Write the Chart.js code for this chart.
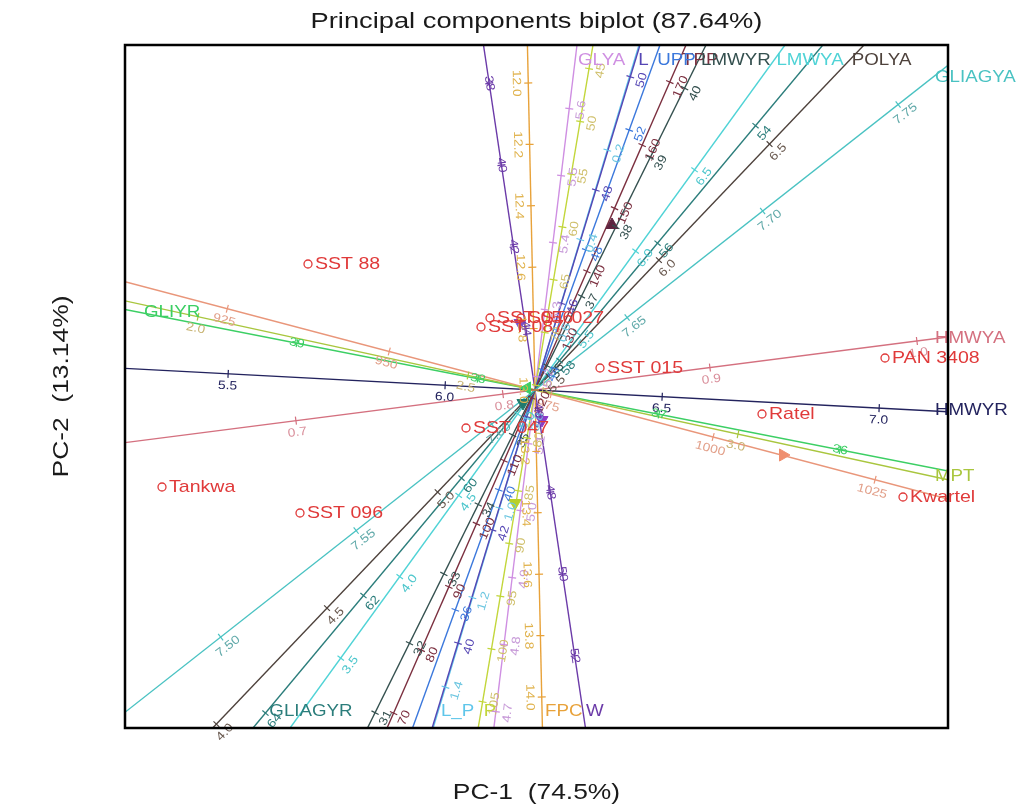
<!DOCTYPE html>
<html>
<head>
<meta charset="utf-8">
<script src="https://cdn.jsdelivr.net/npm/chart.js@4.4.1/dist/chart.umd.min.js"></script>
<style>
  html, body { margin: 0; padding: 0; background: #ffffff; }
  canvas { display: block; }
</style>
</head>
<body>
<canvas id="biplot" width="1016" height="807"></canvas>
<script>
// ---- plotting window in PC units ----
const xRange = [-4.10, 4.13];
const yRange = [-3.38, 3.45];

// ---- cultivar scores (PC-1, PC-2) ----
const cultivars = ['SST 88', 'SST 056', 'SST 027', 'SST 087', 'SST 015', 'PAN 3408',
                   'Ratel', 'SST 047', 'Kwartel', 'Tankwa', 'SST 096'];
const pc1 = [-2.27, -0.45, -0.14, -0.54, 0.65, 3.50, 2.27, -0.69, 3.68, -3.73, -2.35];
const pc2 = [ 1.26,  0.72,  0.72,  0.63, 0.22, 0.32, -0.24, -0.38, -1.07, -0.97, -1.23];

// ---- calibrated variable axes ----
const variables = ['HMWYR', 'HMWYA', 'MPT', '', 'GLIYR', 'GLIAGYA', 'GLIAGYR', 'POLYA', 'LMWYA',
                   'TPP', 'LMWYR', 'L', 'UPP', 'L_P', 'P', 'GLYA', 'FPC', 'W'];
// direction of increasing values
const loadX = [3.42, 3.82, 2.07, 3.37, -5.40, 6.78, -2.82, 3.29, 2.50,
               1.51, 1.71, 1.05, 1.25, -1.04, -0.58, 0.42, 0.15, 1.02];
const loadY = [-0.18, 0.49, -0.45, -0.89, 1.06, 5.33, -3.38, 3.45, 3.45,
               3.45, 3.45, 3.45, 3.45, -3.45, -3.45, 3.45, -6.83, -6.83];
// variable value found at the biplot origin
const axisMean = [6.207, 0.8155, 2.624, 972.5, 37.685, 7.616, 58.5, 5.44, 5.147,
                  121.2, 35.65, 44.47, 43.33, 0.736, 75.45, 5.18, 13.0, 45.5];
// biplot distance covered by one unit of the variable
const axisStep = [4.346, 20.87, 5.526, 0.0670, 1.845, 34.47, 0.765, 3.206, 2.01,
                  0.06888, 0.7745, 0.592, 0.319, 4.674, 0.107, 6.749, 3.071, 0.4135];
const axisTicks = [
  ['5.5', '6.0', '6.5', '7.0'],
  ['0.7', '0.8', '0.9', '1.0'],
  ['2.0', '2.5', '3.0'],
  ['925', '950', '975', '1000', '1025'],
  ['36', '37', '38', '39'],
  ['7.50', '7.55', '7.60', '7.65', '7.70', '7.75'],
  ['54', '56', '58', '60', '62', '64'],
  ['4.0', '4.5', '5.0', '5.5', '6.0', '6.5'],
  ['3.5', '4.0', '4.5', '5.0', '5.5', '6.0', '6.5'],
  ['70', '80', '90', '100', '110', '120', '130', '140', '150', '160', '170'],
  ['31', '32', '33', '34', '35', '36', '37', '38', '39', '40'],
  ['40', '42', '44', '46', '48', '50'],
  ['36', '40', '44', '48', '52'],
  ['0.2', '0.4', '0.6', '0.8', '1.0', '1.2', '1.4'],
  ['45', '50', '55', '60', '65', '70', '75', '80', '85', '90', '95', '100', '105'],
  ['4.7', '4.8', '4.9', '5.0', '5.1', '5.2', '5.3', '5.4', '5.5', '5.6'],
  ['12.0', '12.2', '12.4', '12.6', '12.8', '13.0', '13.2', '13.4', '13.6', '13.8', '14.0'],
  ['38', '40', '42', '44', '46', '48', '50', '52']
];

// ---- predicted-mean markers ----
const markerX = [0.77, -0.15, -0.12, 0.07, -0.20, 2.48, -0.08];
const markerY = [1.65, 0.67, -0.13, -0.30, -1.13, -0.65, 0.02];

// ---- styling ----
const lineColors = ['#23235e', '#d4707f', '#a9c63e', '#e9967a', '#3ccf64', '#49c2c2', '#2b7d7b',
                    '#4e423c', '#4fd3d6', '#7b2f3f', '#34504f', '#5546b4', '#3b78dc', '#5fc6ea',
                    '#c2d63a', '#cf8fe2', '#e8a23a', '#6b3aa8'];
const tickTextColors = ['#23235e', '#d98e9a', '#c9b473', '#e2a08a', '#3ccf64', '#62aaaa', '#2b7d7b',
                        '#6a5a50', '#4cc6cc', '#7b2f3f', '#34504f', '#5546b4', '#3b78dc', '#6cc6e0',
                        '#cfbf6a', '#c79ad8', '#e0b24c', '#6b3aa8'];
const tickSide = [1, 1, 1, 1, 0, 1, -1, 1, 1, 1, 1, 1, 1, -1, -1, 1, 1, 0];
const markerColors = ['#5e2440', '#7a52c8', '#1f7a6e', '#8a3cc8', '#b8d028', '#ef8f6f', '#3ccf64'];
const markerRotation = [0, 180, 180, 180, 180, 90, 270];

const FONT = '"Liberation Sans", Arial, sans-serif';
const FRAME = { left: 125, top: 45, right: 68, bottom: 79 };

function unitVec(i) {
  const n = Math.hypot(loadX[i], loadY[i]);
  return [loadX[i] / n, loadY[i] / n];
}
function exitT(ux, uy) {
  let t = Infinity;
  if (ux > 0) t = Math.min(t, xRange[1] / ux);
  if (ux < 0) t = Math.min(t, xRange[0] / ux);
  if (uy > 0) t = Math.min(t, yRange[1] / uy);
  if (uy < 0) t = Math.min(t, yRange[0] / uy);
  return t;
}
function inside(x, y) {
  return x >= xRange[0] && x <= xRange[1] && y >= yRange[0] && y <= yRange[1];
}

const axisDatasets = variables.map((name, i) => {
  const [ux, uy] = unitVec(i);
  const tp = exitT(ux, uy), tn = exitT(-ux, -uy);
  return {
    type: 'line',
    label: name,
    data: [{ x: -tn * ux, y: -tn * uy }, { x: tp * ux, y: tp * uy }],
    borderColor: lineColors[i],
    borderWidth: 1.4,
    pointRadius: 0,
    fill: false,
    order: 5
  };
});

function stretchText(ctx, text, x, y, angle, sx, align) {
  ctx.save();
  ctx.translate(x, y);
  ctx.rotate(angle);
  ctx.scale(sx, 1);
  ctx.textAlign = align;
  ctx.fillText(text, 0, 0);
  ctx.restore();
}

const biplotDecor = {
  id: 'biplotDecor',
  afterDatasetsDraw(chart) {
    const ctx = chart.ctx;
    const xs = chart.scales.x, ys = chart.scales.y;
    const area = chart.chartArea;
    const px = (x, y) => [xs.getPixelForValue(x), ys.getPixelForValue(y)];
    const O = px(0, 0);
    ctx.save();
    ctx.textBaseline = 'middle';

    variables.forEach((name, i) => {
      const [ux, uy] = unitVec(i);
      const P1 = px(ux, uy);
      let dx = P1[0] - O[0], dy = P1[1] - O[1];
      const dl = Math.hypot(dx, dy); dx /= dl; dy /= dl;
      const nx = -dy, ny = dx;
      let ang = Math.atan2(dy, dx);
      if (ang > Math.PI / 2 + 1e-6) ang -= Math.PI;
      if (ang <= -Math.PI / 2 + 1e-6) ang += Math.PI;

      // tick marks and their values
      ctx.font = '12px ' + FONT;
      axisTicks[i].forEach(lbl => {
        const t = (parseFloat(lbl) - axisMean[i]) * axisStep[i];
        const X = t * ux, Y = t * uy;
        if (!inside(X, Y)) return;
        const [qx, qy] = px(X, Y);
        ctx.strokeStyle = lineColors[i];
        ctx.lineWidth = 1.2;
        ctx.beginPath();
        ctx.moveTo(qx - 4 * nx, qy - 4 * ny);
        ctx.lineTo(qx + 4 * nx, qy + 4 * ny);
        ctx.stroke();
        ctx.fillStyle = tickTextColors[i];
        const off = tickSide[i] * 12;
        stretchText(ctx, lbl, qx + off * nx, qy + off * ny, ang, 1.15, 'center');
      });

      // variable name at the increasing end, just inside the frame
      if (name) {
        const ins = 16;
        const L = area.left + ins, R = area.right - ins, T = area.top + ins, B = area.bottom - ins;
        let t = Infinity;
        if (dx > 0) t = Math.min(t, (R - O[0]) / dx);
        if (dx < 0) t = Math.min(t, (L - O[0]) / dx);
        if (dy > 0) t = Math.min(t, (B - O[1]) / dy);
        if (dy < 0) t = Math.min(t, (T - O[1]) / dy);
        const lx = O[0] + t * dx, ly = O[1] + t * dy;
        ctx.font = '16px ' + FONT;
        ctx.fillStyle = lineColors[i];
        stretchText(ctx, name, lx + 3, ly, 0, 1.17, 'left');
      }
    });

    // cultivar names
    ctx.font = '17px ' + FONT;
    ctx.fillStyle = '#e03a3a';
    cultivars.forEach((name, k) => {
      const [cx, cy] = px(pc1[k], pc2[k]);
      stretchText(ctx, name, cx + 7, cy, 0, 1.15, 'left');
    });

    // frame
    ctx.strokeStyle = '#000000';
    ctx.lineWidth = 2.5;
    ctx.strokeRect(area.left, area.top, area.right - area.left, area.bottom - area.top);
    ctx.restore();
  },
  afterDraw(chart) {
    const ctx = chart.ctx;
    const area = chart.chartArea;
    const cx = (area.left + area.right) / 2;
    ctx.save();
    ctx.fillStyle = '#1a1a1a';
    ctx.textBaseline = 'middle';
    ctx.font = '22px ' + FONT;
    stretchText(ctx, 'Principal components biplot (87.64%)', cx, 22, 0, 1.24, 'center');
    stretchText(ctx, 'PC-1  (74.5%)', cx, 793, 0, 1.2, 'center');
    stretchText(ctx, 'PC-2  (13.14%)', 62, (area.top + area.bottom) / 2, -Math.PI / 2, 1.2, 'center');
    ctx.restore();
  }
};

new Chart(document.getElementById('biplot'), {
  type: 'scatter',
  data: {
    datasets: [
      {
        label: 'cultivars',
        data: pc1.map((x, k) => ({ x, y: pc2[k] })),
        pointStyle: 'circle',
        pointRadius: 4,
        pointBorderWidth: 1.3,
        borderColor: '#e03a3a',
        backgroundColor: 'rgba(0,0,0,0)',
        order: 0
      },
      {
        label: 'means',
        data: markerX.map((x, k) => ({ x, y: markerY[k] })),
        pointStyle: 'triangle',
        pointRadius: 7,
        rotation: markerRotation,
        backgroundColor: markerColors,
        borderColor: markerColors,
        borderWidth: 1,
        order: 1
      },
      ...axisDatasets
    ]
  },
  options: {
    responsive: false,
    animation: false,
    devicePixelRatio: 1,
    layout: { padding: FRAME },
    scales: {
      x: { type: 'linear', min: xRange[0], max: xRange[1], display: false },
      y: { type: 'linear', min: yRange[0], max: yRange[1], display: false }
    },
    plugins: { legend: { display: false }, tooltip: { enabled: false }, title: { display: false } }
  },
  plugins: [biplotDecor]
});
</script>
</body>
</html>
